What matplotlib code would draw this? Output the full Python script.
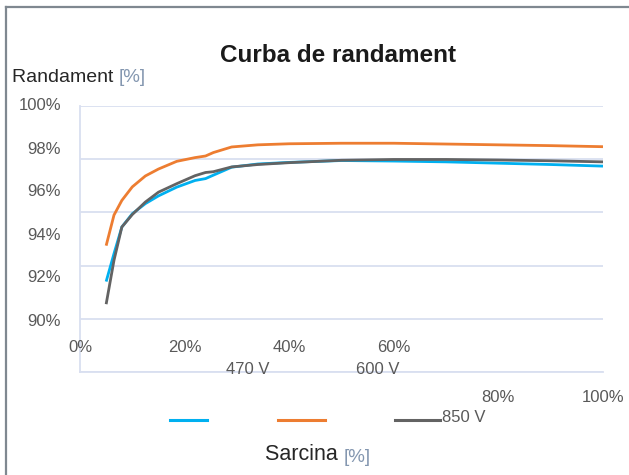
import matplotlib.pyplot as plt
from matplotlib.lines import Line2D

plt.rcParams['font.family'] = ['Liberation Sans', 'DejaVu Sans']

# load [%]
sarcina = [5, 6.5, 8, 10, 12.5, 15, 18.5, 22, 24, 25.5, 29, 34, 40, 50, 60, 70, 80, 90, 100]

# efficiency [%]
eta_470 = [93.4, 94.45, 95.45, 95.95, 96.33, 96.62, 96.95, 97.2, 97.27, 97.4, 97.7,
           97.82, 97.88, 97.95, 97.93, 97.9, 97.85, 97.8, 97.74]
eta_600 = [94.75, 95.9, 96.45, 96.96, 97.37, 97.63, 97.92, 98.06, 98.12, 98.25, 98.46,
           98.54, 98.58, 98.6, 98.6, 98.57, 98.54, 98.51, 98.47]
eta_850 = [92.55, 94.2, 95.45, 95.92, 96.39, 96.76, 97.08, 97.38, 97.5, 97.53, 97.71,
           97.8, 97.87, 97.96, 97.99, 97.99, 97.97, 97.94, 97.9]

serii = ['470 V', '600 V', '850 V']
culori = ['#00b0f0', '#ed7d31', '#636363']
x_ticks = [0, 20, 40, 60, 80, 100]
y_ticks = [90, 92, 94, 96, 98, 100]

fig = plt.figure(figsize=(6.29, 4.75), dpi=100)
W, H = 629, 475

# outer frame
fig.add_artist(Line2D([6 / W, 6 / W], [0, 1 - 7 / H], color='#7f8890', lw=1.6))
fig.add_artist(Line2D([6 / W, 1], [1 - 7 / H, 1 - 7 / H], color='#7f8890', lw=1.6))

ax = fig.add_axes([80 / W, 1 - 372 / H, 523 / W, 266 / H])
for y, c in zip([eta_470, eta_600, eta_850], culori):
    ax.plot(sarcina, y, color=c, lw=2, solid_capstyle='butt', solid_joinstyle='round')

ax.set_xlim(0, 100)
ax.set_ylim(90, 100)
ax.set_yticks(y_ticks)
ax.set_xticks(x_ticks)
ax.tick_params(length=0, labelleft=False, labelbottom=False)
ax.grid(axis='y', color='#d9dff0', lw=1.3)
for s in ['top', 'right']:
    ax.spines[s].set_visible(False)
ax.spines['left'].set_color('#d9dff0')
ax.spines['bottom'].set_color('#d9dff0')
ax.spines['left'].set_linewidth(1.3)
ax.spines['bottom'].set_linewidth(1.3)
ax.set_axisbelow(True)

tc = '#595959'
fs = 12
# y labels (as rendered in the original, slightly compressed)
for i, v in enumerate(y_ticks[::-1]):
    fig.text(61 / W, 1 - (106 + i * 43) / H, f'{v}%', ha='right', va='center',
             fontsize=fs, color=tc)

# x labels: first four in upper row, last two lower
for v in x_ticks:
    px = 80 + v * 5.23
    py = 347 if v <= 60 else 397
    fig.text(px / W, 1 - py / H, f'{v}%', ha='center', va='center',
             fontsize=fs, color=tc)

# legend (as rendered)
leg_lines = [(170, 207), (278, 325), (395, 440)]
for (x0, x1), c in zip(leg_lines, culori):
    fig.add_artist(Line2D([x0 / W, x1 / W], [1 - 420 / H] * 2, color=c, lw=2.2))
fig.text(248 / W, 1 - 370 / H, serii[0], ha='center', va='center', fontsize=fs, color=tc)
fig.text(378 / W, 1 - 370 / H, serii[1], ha='center', va='center', fontsize=fs, color=tc)
fig.text(442 / W, 1 - 418 / H, serii[2], ha='left', va='center', fontsize=fs, color=tc)

fig.text(338 / W, 1 - 56 / H, 'Curba de randament', ha='center', va='center',
         fontsize=17.5, fontweight='bold', color='#1a1a1a')

t = fig.text(12 / W, 1 - 77 / H, 'Randament ', ha='left', va='center',
             fontsize=14, color='#262626')
fig.canvas.draw()
bb = t.get_window_extent()
fig.text(bb.x1 / W, 1 - 77 / H, '[%]', ha='left', va='center', fontsize=13.5, color='#8497b0')

t2 = fig.text(265 / W, 1 - 455 / H, 'Sarcina ', ha='left', va='center',
              fontsize=15.5, color='#262626')
fig.canvas.draw()
bb2 = t2.get_window_extent()
fig.text(bb2.x1 / W, 1 - 457 / H, '[%]', ha='left', va='center', fontsize=13.5, color='#8497b0')

fig.savefig('out.png', dpi=100)
